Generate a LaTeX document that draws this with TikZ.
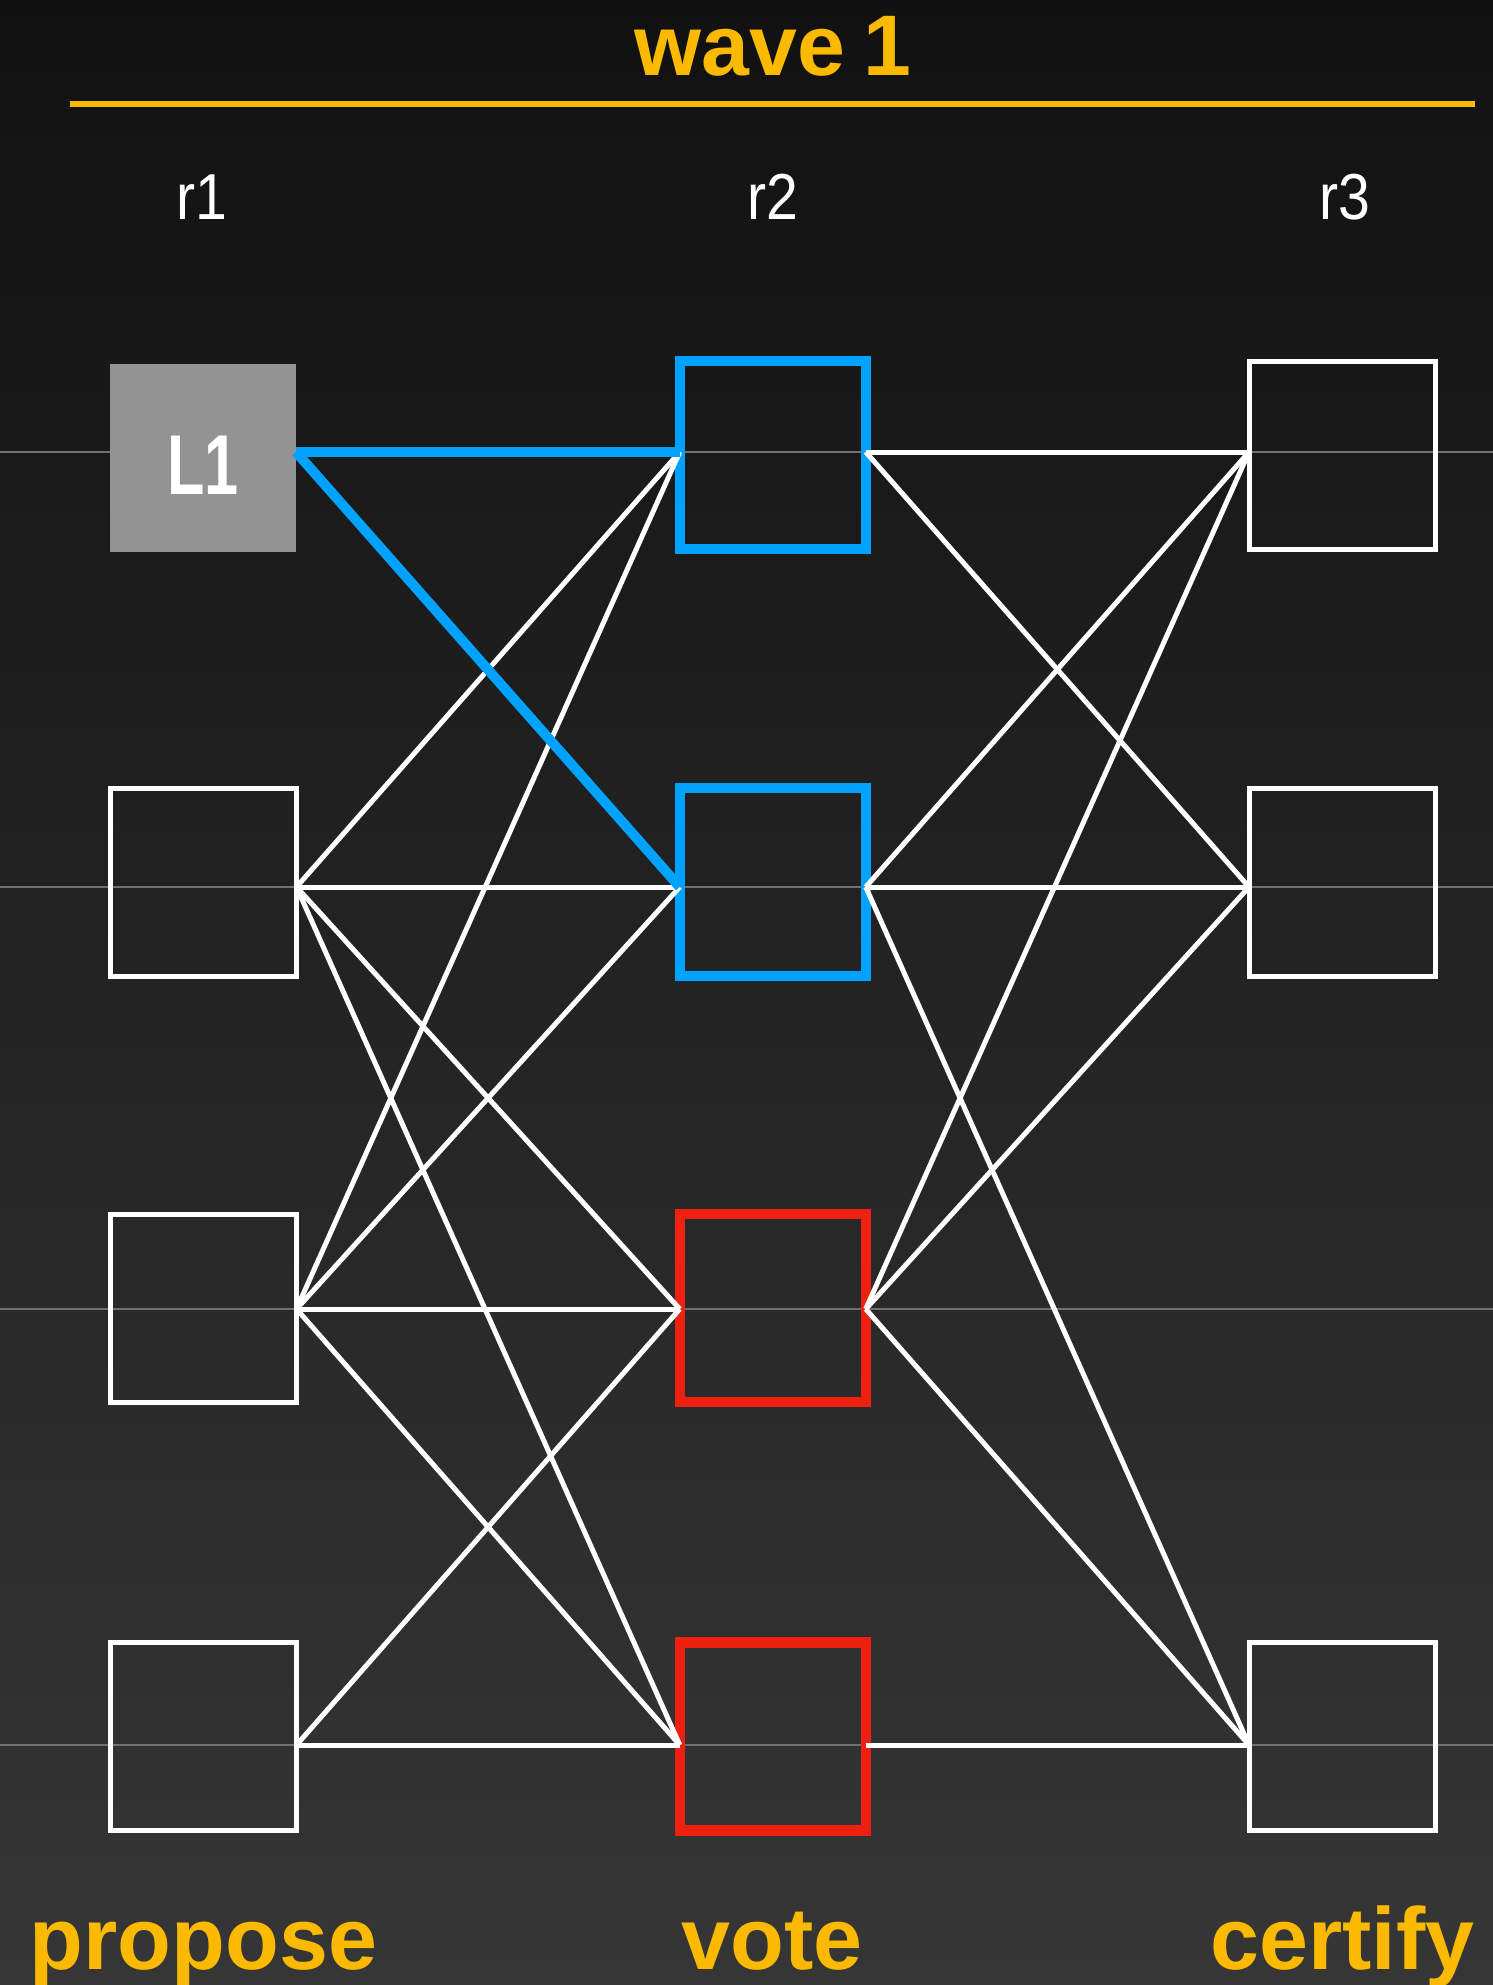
\documentclass[tikz,border=0pt]{standalone}
\usepackage{fontspec}
\setmainfont{Liberation Sans}
\definecolor{wyellow}{HTML}{FBBA00}
\definecolor{wblue}{HTML}{00A2FF}
\definecolor{wred}{HTML}{EE200F}
\definecolor{bgtop}{HTML}{111111}
\definecolor{bgbot}{HTML}{363636}
\definecolor{gridgrey}{HTML}{707070}
\definecolor{leadgrey}{HTML}{939393}
\begin{document}
\begin{tikzpicture}[x=1pt,y=-1pt,
  box/.style={rectangle,draw=white,line width=5pt,minimum width=186pt,minimum height=188pt,inner sep=0pt,outer sep=0pt},
  bluebox/.style={box,draw=wblue,line width=10.5pt},
  redbox/.style={box,draw=wred,line width=10.5pt},
  leadbox/.style={rectangle,fill=leadgrey,minimum width=186pt,minimum height=188pt,inner sep=0pt,outer sep=0pt},
  edge/.style={draw=white,line width=5pt},
  bedge/.style={draw=wblue,line width=10pt},
  gridline/.style={draw=gridgrey,line width=2.8pt},
  title/.style={text=wyellow,font=\fontsize{86}{90}\selectfont\bfseries,anchor=base,inner sep=0pt},
  phase/.style={text=wyellow,font=\fontsize{88}{92}\selectfont\bfseries,anchor=base,inner sep=0pt},
  round/.style={text=white,font=\fontsize{65}{70}\selectfont,anchor=base,inner sep=0pt},
  leadtext/.style={text=white,font=\fontsize{85}{90}\selectfont\bfseries,anchor=base,inner sep=0pt}
]
\useasboundingbox (0,0) rectangle (1492,1985);
\shade[top color=bgtop,bottom color=bgbot] (-6,-6) rectangle (1498,1991);

% title and rule
\node[title] (wave) at (773,76) {wave\hspace{-6pt} 1};
\draw[wyellow,line width=6pt] (70,104.5) -- (1475,104.5);

% round labels
\node[round] (r1) at (201.5,220) {\scalebox{0.88}[1]{r1}};
\node[round] (r2) at (773,220) {\scalebox{0.88}[1]{r2}};
\node[round] (r3) at (1344.5,220) {\scalebox{0.88}[1]{r3}};

% grey guide lines
\coordinate (g1) at (0,452);
\coordinate (g2) at (0,887);
\coordinate (g3) at (0,1309);
\coordinate (g4) at (0,1745);
\draw[gridline] (-5,452) -- (1497,452);
\draw[gridline] (-5,887) -- (1497,887);
\draw[gridline] (-5,1309) -- (1497,1309);
\draw[gridline] (-5,1745) -- (1497,1745);

% column r1
\node[leadbox] (p1) at (203,458) {};
\node[leadtext] (l1) at (203,494) {\scalebox{0.72}[1]{L1}};
\node[box] (p2) at (203.5,882.5) {};
\node[box] (p3) at (203.5,1308) {};
\node[box] (p4) at (203.5,1736.5) {};

% column r2
\node[bluebox] (v1) at (772.75,455) {};
\node[bluebox] (v2) at (772.75,882) {};
\node[redbox] (v3) at (772.75,1308) {};
\node[redbox] (v4) at (772.75,1736.5) {};

% column r3
\node[box] (c1) at (1342,455.7) {};
\node[box] (c2) at (1342,882.5) {};
\node[box] (c4) at (1342,1736.5) {};

% r1 -> r2 (white)
\draw[edge] (p2.east |- g2) -- (v1.west |- g1);
\draw[edge] (p2.east |- g2) -- (v2.west |- g2);
\draw[edge] (p2.east |- g2) -- (v3.west |- g3);
\draw[edge] (p2.east |- g2) -- (v4.west |- g4);
\draw[edge] (p3.east |- g3) -- (v1.west |- g1);
\draw[edge] (p3.east |- g3) -- (v2.west |- g2);
\draw[edge] (p3.east |- g3) -- (v3.west |- g3);
\draw[edge] (p3.east |- g3) -- (v4.west |- g4);
\draw[edge] (p4.east |- g4) -- (v3.west |- g3);
\draw[edge] (p4.east |- g4) -- (v4.west |- g4);

% r1 -> r2 (leader, blue)
\draw[bedge] (p1.east |- g1) -- (v1.west |- g1);
\draw[bedge] (p1.east |- g1) -- (v2.west |- g2);

% r2 -> r3
\draw[edge] (v1.east |- g1) -- (c1.west |- g1);
\draw[edge] (v1.east |- g1) -- (c2.west |- g2);
\draw[edge] (v2.east |- g2) -- (c1.west |- g1);
\draw[edge] (v2.east |- g2) -- (c2.west |- g2);
\draw[edge] (v2.east |- g2) -- (c4.west |- g4);
\draw[edge] (v3.east |- g3) -- (c1.west |- g1);
\draw[edge] (v3.east |- g3) -- (c2.west |- g2);
\draw[edge] (v3.east |- g3) -- (c4.west |- g4);
\draw[edge] (v4.east |- g4) -- (c4.west |- g4);

% phase labels
\node[phase] (propose) at (203.5,1969) {propose};
\node[phase] (vote) at (772,1969) {vote};
\node[phase] (certify) at (1342.5,1969) {certify};
\end{tikzpicture}
\end{document}
